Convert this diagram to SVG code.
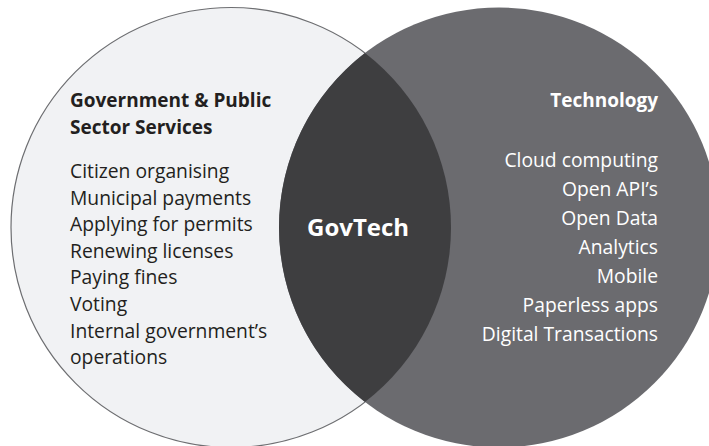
<svg xmlns="http://www.w3.org/2000/svg" width="709" height="446" viewBox="0 0 709 446">
  <style>
    text { font-family: "Open Sans", "Noto Sans", "Liberation Sans", sans-serif; }
    .head { font-size: 19px; font-weight: 700; }
    .item { font-size: 19.3px; font-weight: 400; }
    .dark { fill: #231f20; }
    .light { fill: #ffffff; }
    .end { text-anchor: end; }
  </style>
  <rect x="0" y="0" width="709" height="446" fill="#ffffff"/>
  <g id="government">
    <circle cx="231" cy="227.5" r="220" fill="#f1f2f4" stroke="#6d6e71" stroke-width="1.2"/>
    <text class="head dark" x="70" y="107">Government &amp; Public</text>
    <text class="head dark" x="70" y="133.5">Sector Services</text>
    <text class="item dark" x="70" y="178">Citizen organising</text>
    <text class="item dark" x="70" y="204.6">Municipal payments</text>
    <text class="item dark" x="70" y="231.2">Applying for permits</text>
    <text class="item dark" x="70" y="257.8">Renewing licenses</text>
    <text class="item dark" x="70" y="284.4">Paying fines</text>
    <text class="item dark" x="70" y="311">Voting</text>
    <text class="item dark" x="70" y="337.6">Internal government’s</text>
    <text class="item dark" x="70" y="364.2">operations</text>
  </g>
  <g id="technology">
    <circle cx="499" cy="227.5" r="220" fill="#6b6b6f"/>
    <text class="head light end" x="658" y="107">Technology</text>
    <text class="item light end" x="658" y="167">Cloud computing</text>
    <text class="item light end" x="658" y="196">Open API’s</text>
    <text class="item light end" x="658" y="225">Open Data</text>
    <text class="item light end" x="658" y="254">Analytics</text>
    <text class="item light end" x="658" y="283">Mobile</text>
    <text class="item light end" x="658" y="312">Paperless apps</text>
    <text class="item light end" x="658" y="341">Digital Transactions</text>
  </g>
  <g id="govtech">
    <path d="M365,53.02 A220,220 0 0,1 365,401.98 A220,220 0 0,1 365,53.02 Z" fill="#3e3e40"/>
    <text class="light" x="307" y="235.5" font-size="24" font-weight="700">GovTech</text>
  </g>
  <g id="connectors"/>
</svg>
